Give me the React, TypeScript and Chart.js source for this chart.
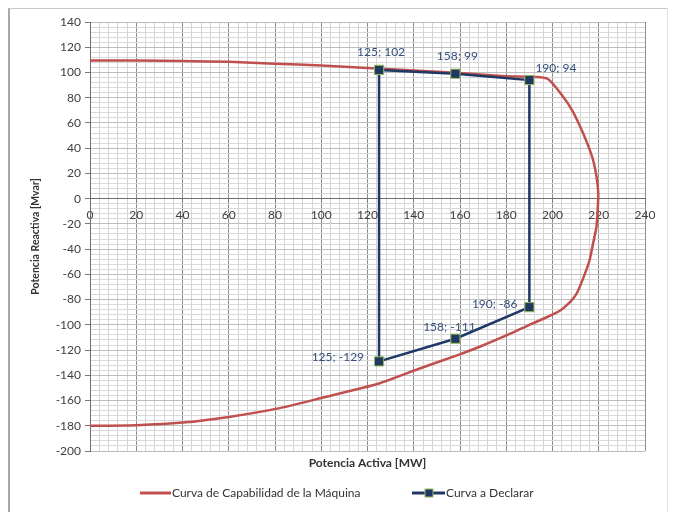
import React, { useEffect, useRef } from "react";
import { Chart, registerables } from "chart.js";

Chart.register(...registerables);

// Capability curve of the machine (P in MW, Q in Mvar)
const capP = [0, 20, 40, 60, 80, 100, 120, 140, 160, 180, 197.5, 204.5, 208.5, 212, 215, 217.5, 219, 219.8, 219.5, 219, 217.5, 216, 213.5, 210.5, 207, 203, 197.5, 190, 183, 169, 159, 142, 125, 100, 82, 60, 40, 20, 0];
const capQ = [109.5, 109.5, 109, 108.5, 107, 105.5, 103.5, 101.5, 99.5, 97, 95.3, 81, 70, 57, 44, 31, 18, 4, -10, -22.5, -36, -49, -62, -75, -83, -89, -94, -100, -106, -117, -124, -135, -146.5, -158, -166, -173, -177.5, -179.5, -180];

// Declared curve
const declP = [125, 158, 190, 190, 158, 125, 125];
const declQ = [102, 99, 94, -86, -111, -129, 102];
const declLabels = ["125; 102", "158; 99", "190; 94", "190; -86", "158; -111", "125; -129"];

const xTicks = { min: 0, max: 240, major: 20, minor: 4 };
const yTicks = { min: -200, max: 140, major: 20, minor: 4 };

const seriesNames = ["Curva de Capabilidad de la Máquina", "Curva a Declarar"];
const xTitle = "Potencia Activa [MW]";
const yTitle = "Potencia Reactiva [Mvar]";

const RED = "#c0504d";
const NAVY = "#1f3864";
const GREEN = "#9bbb59";
const LABEL = "#34507a";
const FONT = "Lato, 'Open Sans', sans-serif";

// label placement styles: [dx, dy, align]
const labelPlace: [number, number, CanvasTextAlign][] = [
  [2, -18, "center"],
  [2, -18, "center"],
  [6, -12, "left"],
  [-12, -3, "right"],
  [-6, -12, "center"],
  [-15, -4, "right"],
];

export default function App() {
  const ref = useRef<HTMLCanvasElement | null>(null);

  useEffect(() => {
    if (!ref.current) return;
    const isMajor = (v: number) => Math.abs(v % 20) < 1e-6;

    const overlay = {
      id: "overlay",
      afterDatasetsDraw(chart: any) {
        const ctx = chart.ctx;
        const xs = chart.scales.x;
        const ys = chart.scales.y;
        const area = chart.chartArea;
        ctx.save();
        ctx.font = `12px ${FONT}`;
        ctx.fillStyle = LABEL;
        ctx.textBaseline = "middle";
        declLabels.forEach((t, i) => {
          const px = xs.getPixelForValue(declP[i]);
          const py = ys.getPixelForValue(declQ[i]);
          const [dx, dy, al] = labelPlace[i];
          ctx.textAlign = al;
          ctx.fillText(t, px + dx, py + dy);
        });
        // x title
        ctx.font = `bold 12px ${FONT}`;
        ctx.fillStyle = "#333";
        ctx.textAlign = "center";
        ctx.fillText(xTitle, (area.left + area.right) / 2, area.bottom + 12);
        // legend
        const ly = area.bottom + 42;
        ctx.font = `12px ${FONT}`;
        ctx.textAlign = "left";
        ctx.lineWidth = 3;
        ctx.strokeStyle = RED;
        ctx.beginPath();
        ctx.moveTo(130, ly);
        ctx.lineTo(161, ly);
        ctx.stroke();
        ctx.fillStyle = "#333";
        ctx.fillText(seriesNames[0], 162, ly);
        ctx.strokeStyle = NAVY;
        ctx.beginPath();
        ctx.moveTo(402, ly);
        ctx.lineTo(435, ly);
        ctx.stroke();
        ctx.fillStyle = NAVY;
        ctx.fillRect(415, ly - 4, 8, 8);
        ctx.lineWidth = 1;
        ctx.strokeStyle = GREEN;
        ctx.strokeRect(415, ly - 4, 8, 8);
        ctx.fillStyle = "#333";
        ctx.fillText(seriesNames[1], 436, ly);
        ctx.restore();
      },
    };

    const chart = new Chart(ref.current, {
      type: "scatter",
      data: {
        datasets: [
          {
            label: seriesNames[0],
            data: capP.map((p, i) => ({ x: p, y: capQ[i] })),
            showLine: true,
            borderColor: RED,
            borderWidth: 2.5,
            pointRadius: 0,
            tension: 0.2,
            order: 2,
          },
          {
            label: seriesNames[1],
            data: declP.map((p, i) => ({ x: p, y: declQ[i] })),
            showLine: true,
            borderColor: NAVY,
            borderWidth: 2.5,
            pointStyle: "rect",
            pointRadius: 6.5,
            pointBackgroundColor: NAVY,
            pointBorderColor: GREEN,
            pointBorderWidth: 1,
            tension: 0,
            order: 1,
          },
        ],
      },
      options: {
        responsive: false,
        animation: false,
        events: [],
        layout: { padding: { top: 13, right: 22, bottom: 61, left: 15 } },
        plugins: {
          legend: { display: false },
          tooltip: { enabled: false },
        },
        scales: {
          x: {
            type: "linear",
            position: { y: 0 } as any,
            min: xTicks.min,
            max: xTicks.max,
            ticks: {
              stepSize: xTicks.minor,
              autoSkip: false,
              maxRotation: 0,
              padding: 4,
              color: "#404040",
              font: { family: FONT, size: 12 },
              callback: (v: any) => (isMajor(Number(v)) ? String(v) : ""),
            },
            grid: {
              color: (c: any) => (isMajor(c.tick.value) ? "#8c8c8c" : "#d4d4d4"),
              tickColor: (c: any) => (isMajor(c.tick.value) ? "#7a7a7a" : "rgba(0,0,0,0)"),
              tickLength: 5,
              lineWidth: 1,
            },
            border: { display: true, color: "#6e6e6e", width: 1 },
          },
          y: {
            type: "linear",
            position: "left",
            min: yTicks.min,
            max: yTicks.max,
            afterFit: (s: any) => {
              s.width = 65;
            },
            title: {
              display: true,
              text: yTitle,
              color: "#333",
              font: { family: FONT, size: 10.5, weight: "bold" },
              padding: { top: 4, bottom: 0 },
            },
            ticks: {
              stepSize: yTicks.minor,
              autoSkip: false,
              padding: 4,
              color: "#404040",
              font: { family: FONT, size: 12 },
              callback: (v: any) => (isMajor(Number(v)) ? String(v) : ""),
            },
            grid: {
              color: (c: any) => (isMajor(c.tick.value) ? "#bdbdbd" : "#d8d8d8"),
              tickColor: (c: any) => (isMajor(c.tick.value) ? "#7a7a7a" : "rgba(0,0,0,0)"),
              tickLength: 5,
              lineWidth: 1,
            },
            border: { display: true, color: "#6e6e6e", width: 1 },
          },
        },
      },
      plugins: [overlay],
    });
    return () => chart.destroy();
  }, []);

  return (
    <div
      style={{
        width: 660,
        height: 504,
        boxSizing: "border-box",
        borderLeft: "2px solid #a8a8a8",
        borderTop: "1px solid #c8c8c8",
        borderRight: "1px solid #e2e2e2",
        background: "#fff",
        overflow: "hidden",
      }}
    >
      <canvas ref={ref} width={657} height={503} style={{ display: "block" }} />
    </div>
  );
}
